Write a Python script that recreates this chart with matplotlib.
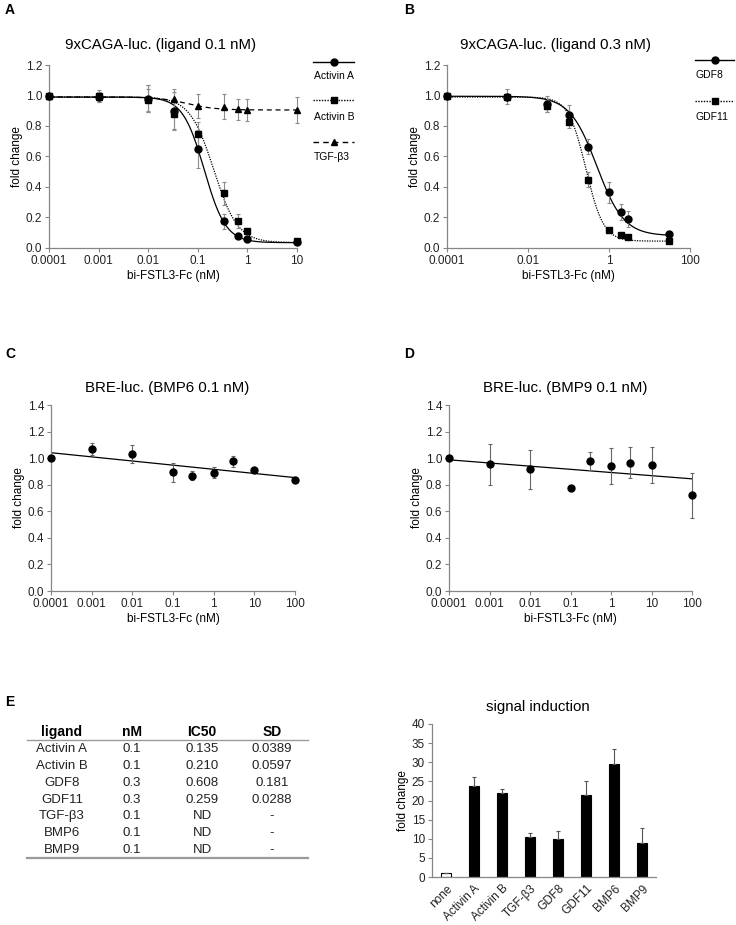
import numpy as np
import matplotlib
matplotlib.use("Agg")
import matplotlib.pyplot as plt
from matplotlib.lines import Line2D

plt.rcParams['font.family'] = ['Liberation Sans', 'DejaVu Sans']

W, H = 736, 925

# ---- data --------------------------------------------------------------
# A: 9xCAGA-luc, ligand 0.1 nM
conc_a = [0.0001, 0.001, 0.01, 0.033, 0.1, 0.33, 0.66, 1, 10]
actA = [1.00, 0.99, 0.98, 0.90, 0.648, 0.175, 0.076, 0.06, 0.04]
actA_err = [0, 0.03, 0.09, 0.12, 0.124, 0.05, 0.01, 0.01, 0.01]
actB = [1.00, 0.995, 0.97, 0.877, 0.746, 0.36, 0.175, 0.11, 0.045]
actB_err = [0, 0.04, 0.07, 0.10, 0.077, 0.075, 0.045, 0.02, 0.01]
tgfb3 = [1.00, 0.99, 0.98, 0.975, 0.932, 0.927, 0.91, 0.905, 0.905]
tgfb3_err = [0, 0.02, 0.09, 0.065, 0.08, 0.08, 0.07, 0.07, 0.086]

# B: 9xCAGA-luc, ligand 0.3 nM
conc_b = [0.0001, 0.003, 0.03, 0.1, 0.3, 1, 2, 3, 30]
gdf8 = [1.00, 0.993, 0.945, 0.873, 0.665, 0.364, 0.236, 0.19, 0.094]
gdf8_err = [0, 0.05, 0.055, 0.065, 0.05, 0.07, 0.055, 0.05, 0.01]
gdf11 = [1.00, 0.99, 0.93, 0.825, 0.447, 0.12, 0.087, 0.072, 0.044]
gdf11_err = [0, 0.02, 0.04, 0.04, 0.05, 0.01, 0.01, 0.01, 0.005]

# 4PL fit params: top, bottom, ic50, hill
fit_actA = (0.99, 0.035, 0.135, 2.0)
fit_actB = (0.99, 0.035, 0.21, 1.8)
fit_tgfb3 = (0.99, 0.905, 0.06, 1.5)
fit_gdf8 = (0.995, 0.08, 0.5, 1.3)
fit_gdf11 = (0.99, 0.045, 0.27, 2.0)

# C / D: BRE-luc
conc_cd = [0.0001, 0.001, 0.01, 0.1, 0.3, 1, 3, 10, 100]
bmp6 = [1.00, 1.068, 1.028, 0.892, 0.867, 0.89, 0.975, 0.91, 0.834]
bmp6_err = [0, 0.045, 0.068, 0.07, 0.035, 0.04, 0.04, 0.01, 0.015]
bmp9 = [1.00, 0.955, 0.915, 0.774, 0.978, 0.94, 0.965, 0.95, 0.719]
bmp9_err = [0, 0.155, 0.15, 0, 0.07, 0.133, 0.117, 0.137, 0.17]

# E: table
tbl_head = ['ligand', 'nM', 'IC50', 'SD']
tbl_ligand = ['Activin A', 'Activin B', 'GDF8', 'GDF11', 'TGF-β3', 'BMP6', 'BMP9']
tbl_nm = ['0.1', '0.1', '0.3', '0.3', '0.1', '0.1', '0.1']
tbl_ic50 = ['0.135', '0.210', '0.608', '0.259', 'ND', 'ND', 'ND']
tbl_sd = ['0.0389', '0.0597', '0.181', '0.0288', '-', '-', '-']

# E: signal induction
ligands = ['none', 'Activin A', 'Activin B', 'TGF-β3', 'GDF8', 'GDF11', 'BMP6', 'BMP9']
induction = [1.0, 23.9, 21.9, 10.5, 10.0, 21.5, 29.5, 9.0]
induction_err = [0, 2.2, 1.0, 1.1, 1.9, 3.7, 4.0, 3.7]

AXC = '#868686'
ERRC = '#8c8c8c'


def box(l, t, r, b):
    return [l / W, 1 - b / H, (r - l) / W, (b - t) / H]


def fx(x):
    return x / W


def fy(y):
    return 1 - y / H


def logistic(x, p):
    top, bot, ic50, hill = p
    return bot + (top - bot) / (1 + (x / ic50) ** hill)


def style(ax, xticks, xlabels, ylim, ystep):
    ax.set_xscale('log')
    ax.set_xlim(xticks[0], xticks[-1])
    ax.set_xticks(xticks)
    ax.set_xticklabels(xlabels)
    ax.minorticks_off()
    ax.set_ylim(0, ylim)
    yt = np.arange(0, ylim + 1e-9, ystep)
    ax.set_yticks(yt)
    ax.set_yticklabels(['%.1f' % v for v in yt])
    for s in ['top', 'right']:
        ax.spines[s].set_visible(False)
    for s in ['left', 'bottom']:
        ax.spines[s].set_color(AXC)
        ax.spines[s].set_linewidth(0.9)
    ax.tick_params(direction='out', length=3, width=0.8, color=AXC,
                   labelsize=8.5, labelcolor='#222222', pad=2)
    ax.set_xlabel('bi-FSTL3-Fc (nM)', fontsize=8.5, labelpad=2)
    ax.set_ylabel('fold change', fontsize=8.5, labelpad=2)
    ax.patch.set_alpha(0)


def legend_entry(x0, x1, y, ls, marker, ms, label, ly):
    xm = (x0 + x1) / 2
    fig.add_artist(Line2D([fx(x0), fx(xm), fx(x1)], [fy(y)] * 3, color='black',
                          lw=1.0, ls=ls, marker=marker, ms=ms, markevery=[1],
                          transform=fig.transFigure))
    fig.text(fx(x0 + 1), fy(ly), label, fontsize=7.5, va='center', ha='left')


fig = plt.figure(figsize=(W / 100, H / 100), dpi=100)

# ---- panel A -----------------------------------------------------------
axA = fig.add_axes(box(49, 65, 297, 248))
xs = np.logspace(np.log10(conc_a[0]), np.log10(conc_a[-1]), 400)
axA.plot(xs, logistic(xs, fit_actA), color='black', lw=0.9, ls='-')
axA.plot(xs, logistic(xs, fit_actB), color='black', lw=0.9, ls=(0, (1, 1)))
axA.plot(xs, logistic(xs, fit_tgfb3), color='black', lw=0.9, ls=(0, (4, 3)))
for y, e, m, ms in [(tgfb3, tgfb3_err, '^', 4.5), (actB, actB_err, 's', 4.5), (actA, actA_err, 'o', 5)]:
    axA.errorbar(conc_a, y, yerr=e, fmt=m, ms=ms, color='black', ecolor=ERRC,
                 elinewidth=0.8, capsize=1.5, capthick=0.8, clip_on=False, zorder=3)
style(axA, [0.0001, 0.001, 0.01, 0.1, 1, 10],
      ['0.0001', '0.001', '0.01', '0.1', '1', '10'], 1.2, 0.2)
fig.text(fx(161), fy(45), '9xCAGA-luc. (ligand 0.1 nM)', fontsize=10.8, ha='center', va='center')
legend_entry(313, 354, 62, '-', 'o', 5, 'Activin A', 76)
legend_entry(313, 354, 100, (0, (1, 1)), 's', 4.5, 'Activin B', 117)
legend_entry(313, 354, 142, (0, (4, 3)), '^', 4.5, 'TGF-β3', 157)

# ---- panel B -----------------------------------------------------------
axB = fig.add_axes(box(447, 65, 690, 248))
xs = np.logspace(np.log10(conc_b[0]), np.log10(conc_b[-1]), 400)
axB.plot(xs, logistic(xs, fit_gdf8), color='black', lw=0.9, ls='-')
axB.plot(xs, logistic(xs, fit_gdf11), color='black', lw=0.9, ls=(0, (1, 1)))
for y, e, m, ms in [(gdf11, gdf11_err, 's', 4.5), (gdf8, gdf8_err, 'o', 5)]:
    axB.errorbar(conc_b, y, yerr=e, fmt=m, ms=ms, color='black', ecolor=ERRC,
                 elinewidth=0.8, capsize=1.5, capthick=0.8, clip_on=False, zorder=3)
style(axB, [0.0001, 0.01, 1, 100], ['0.0001', '0.01', '1', '100'], 1.2, 0.2)
fig.text(fx(555), fy(45), '9xCAGA-luc. (ligand 0.3 nM)', fontsize=10.8, ha='center', va='center')
legend_entry(695, 734, 60, '-', 'o', 5, 'GDF8', 75)
legend_entry(695, 734, 101, (0, (1, 1)), 's', 4.5, 'GDF11', 117)

# ---- panels C / D ------------------------------------------------------
cd_ticks = [0.0001, 0.001, 0.01, 0.1, 1, 10, 100]
cd_labels = ['0.0001', '0.001', '0.01', '0.1', '1', '10', '100']
for bx, vals, errs, title, tx in [((51, 405, 295, 591), bmp6, bmp6_err, 'BRE-luc. (BMP6 0.1 nM)', 167),
                                  ((449, 405, 692, 591), bmp9, bmp9_err, 'BRE-luc. (BMP9 0.1 nM)', 565)]:
    ax = fig.add_axes(box(*bx))
    coef = np.polyfit(np.log10(conc_cd), vals, 1)
    xs = np.logspace(-4, 2, 50)
    ax.plot(xs, np.polyval(coef, np.log10(xs)), color='black', lw=0.9)
    ax.errorbar(conc_cd, vals, yerr=errs, fmt='o', ms=5, color='black', ecolor='#666666',
                elinewidth=0.8, capsize=1.5, capthick=0.8, clip_on=False, zorder=3)
    style(ax, cd_ticks, cd_labels, 1.4, 0.2)
    fig.text(fx(tx), fy(388), title, fontsize=10.8, ha='center', va='center')

# ---- panel E: table ----------------------------------------------------
col_x = [62, 132, 202, 272]
for cx, h in zip(col_x, tbl_head):
    fig.text(fx(cx), fy(732), h, fontsize=10, fontweight='bold', ha='center', va='center')
fig.add_artist(Line2D([fx(27), fx(308)], [fy(740)] * 2, color='#9a9a9a', lw=1.0,
                      transform=fig.transFigure))
for i in range(len(tbl_ligand)):
    yy = fy(749.5 + i * 16.7)
    row = [tbl_ligand[i], tbl_nm[i], tbl_ic50[i], tbl_sd[i]]
    for cx, t in zip(col_x, row):
        fig.text(fx(cx), yy, t, fontsize=9.5, ha='center', va='center', color='#222222')
fig.add_artist(Line2D([fx(27), fx(308)], [fy(858)] * 2, color='#9a9a9a', lw=1.6,
                      transform=fig.transFigure))

# ---- panel E: bars -----------------------------------------------------
axE = fig.add_axes(box(432, 724, 656, 877))
pos = np.arange(len(ligands))
axE.bar(pos, induction, width=0.34, color=['white'] + ['black'] * (len(ligands) - 1),
        edgecolor='black', linewidth=0.8)
axE.errorbar(pos, induction, yerr=[np.zeros(len(pos)), induction_err], fmt='none',
             ecolor='#555555', elinewidth=0.8, capsize=1.5, capthick=0.8)
axE.set_xlim(-0.5, len(ligands) - 0.5)
axE.set_ylim(0, 40)
axE.set_yticks(np.arange(0, 41, 5))
axE.set_xticks(pos)
axE.set_xticklabels(ligands, rotation=45, ha='right', rotation_mode='anchor')
for s in ['top', 'right']:
    axE.spines[s].set_visible(False)
for s in ['left', 'bottom']:
    axE.spines[s].set_color(AXC)
    axE.spines[s].set_linewidth(0.9)
axE.tick_params(axis='y', direction='out', length=3, width=0.8, color=AXC,
                labelsize=8.5, labelcolor='#222222', pad=2)
axE.tick_params(axis='x', length=0, labelsize=8.5, labelcolor='#222222', pad=4)
axE.set_ylabel('fold change', fontsize=8.5, labelpad=2)
axE.patch.set_alpha(0)
fig.text(fx(538), fy(707), 'signal induction', fontsize=10.8, ha='center', va='center')

# ---- panel letters -----------------------------------------------------
for letter, (lx, ly) in zip('ABCDE', [(10, 10), (409, 10), (10, 354), (409, 354), (10, 702)]):
    fig.text(fx(lx), fy(ly), letter, fontsize=10, fontweight='bold', ha='center', va='center')

fig.savefig('out.png', dpi=100)
